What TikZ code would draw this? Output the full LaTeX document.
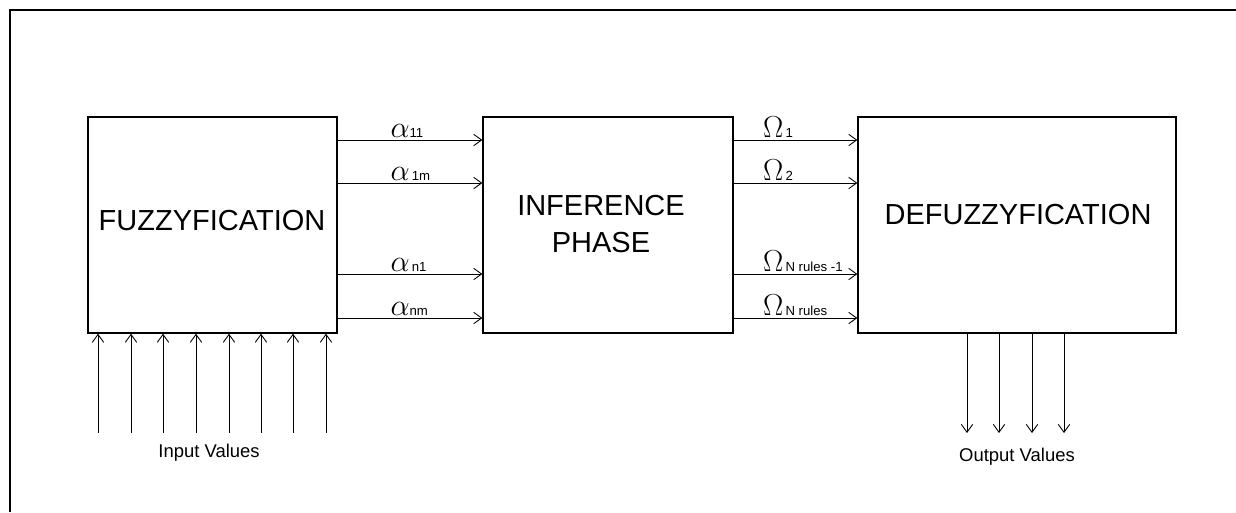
\documentclass[tikz,border=0pt]{standalone}
\usepackage{fontspec}
\setmainfont{Liberation Sans}
\usetikzlibrary{arrows.meta}
\tikzset{
  block/.style={draw,line width=0.8pt,inner sep=0pt},
  flow/.style={line width=0.5pt,-{Straight Barb[length=4.5pt,width=6.5pt]}},
  blocktext/.style={font=\fontsize{16.5}{21}\selectfont,align=center,inner sep=0pt},
  sigtext/.style={anchor=south west,inner sep=1pt},
  iotext/.style={font=\fontsize{10.5}{12}\selectfont,inner sep=0pt}
}
\newcommand{\alab}[1]{{\fontsize{16}{16}\selectfont$\alpha$}{\fontsize{7.5}{7.5}\selectfont #1}}
\newcommand{\olab}[1]{{\fontsize{18}{18}\selectfont$\Omega$}{\fontsize{7.5}{7.5}\selectfont #1}}
\begin{document}
\begin{tikzpicture}[x=0.02cm,y=-0.02cm]
\useasboundingbox (0,0) rectangle (1236,512);
\draw[line width=1.3pt] (1236,10) -- (10,10) -- (10,512);

\node[block,minimum width=4.98cm,minimum height=4.32cm] (fuzz) at (212.5,225) {};
\node[block,minimum width=5.0cm,minimum height=4.32cm] (inf) at (608,225) {};
\node[block,minimum width=6.36cm,minimum height=4.32cm] (defuzz) at (1017,225) {};
\node[blocktext] (fuzztext) at (212,221) {FUZZYFICATION};
\node[blocktext] (inftext) at (601,224) {INFERENCE\\PHASE};
\node[blocktext] (defuzztext) at (1018,215) {DEFUZZYFICATION};

% fuzzyfication -> inference
\draw[flow] (fuzz.east |- {(0,140)}) -- node[sigtext,pos=0.35] {\alab{11}} (inf.west |- {(0,140)});
\draw[flow] (fuzz.east |- {(0,183)}) -- node[sigtext,pos=0.35] {\alab{\,1m}} (inf.west |- {(0,183)});
\draw[flow] (fuzz.east |- {(0,274)}) -- node[sigtext,pos=0.35] {\alab{\,n1}} (inf.west |- {(0,274)});
\draw[flow] (fuzz.east |- {(0,318)}) -- node[sigtext,pos=0.35] {\alab{nm}} (inf.west |- {(0,318)});

% inference -> defuzzyfication
\draw[flow] (inf.east |- {(0,140)}) -- node[sigtext,pos=0.22] {\olab{\,1}} (defuzz.west |- {(0,140)});
\draw[flow] (inf.east |- {(0,183)}) -- node[sigtext,pos=0.22] {\olab{\,2}} (defuzz.west |- {(0,183)});
\draw[flow] (inf.east |- {(0,274)}) -- node[sigtext,pos=0.22] {\olab{\,N rules -1}} (defuzz.west |- {(0,274)});
\draw[flow] (inf.east |- {(0,318)}) -- node[sigtext,pos=0.22] {\olab{\,N rules}} (defuzz.west |- {(0,318)});

% inputs
\coordinate (in1) at (98,433); \coordinate (in2) at (131,433); \coordinate (in3) at (163,433); \coordinate (in4) at (196,433);
\coordinate (in5) at (229,433); \coordinate (in6) at (261,433); \coordinate (in7) at (293,433); \coordinate (in8) at (326,433);
\draw[flow] (in1) -- (fuzz.south -| in1); \draw[flow] (in2) -- (fuzz.south -| in2);
\draw[flow] (in3) -- (fuzz.south -| in3); \draw[flow] (in4) -- (fuzz.south -| in4);
\draw[flow] (in5) -- (fuzz.south -| in5); \draw[flow] (in6) -- (fuzz.south -| in6);
\draw[flow] (in7) -- (fuzz.south -| in7); \draw[flow] (in8) -- (fuzz.south -| in8);
\node[iotext] (inlabel) at (209,453) {Input Values};

% outputs
\coordinate (out1) at (967,433); \coordinate (out2) at (999,433); \coordinate (out3) at (1032,433); \coordinate (out4) at (1064,433);
\draw[flow] (defuzz.south -| out1) -- (out1); \draw[flow] (defuzz.south -| out2) -- (out2);
\draw[flow] (defuzz.south -| out3) -- (out3); \draw[flow] (defuzz.south -| out4) -- (out4);
\node[iotext] (outlabel) at (1017,457) {Output Values};

\end{tikzpicture}
\end{document}
